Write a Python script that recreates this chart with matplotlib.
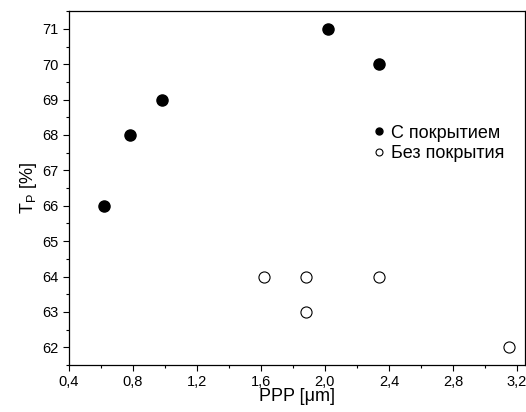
import matplotlib
matplotlib.use("Agg")
import matplotlib.pyplot as plt
from matplotlib.ticker import MultipleLocator, FuncFormatter
from matplotlib.lines import Line2D

plt.rcParams["font.family"] = ["Liberation Sans", "DejaVu Sans"]

# coated samples
coated_x = [0.62, 0.78, 0.98, 2.02, 2.34]
coated_y = [66, 68, 69, 71, 70]
# uncoated samples
bare_x = [1.62, 1.88, 1.88, 2.34, 3.15]
bare_y = [64, 64, 63, 64, 62]

fig = plt.figure(figsize=(5.26, 4.12), dpi=100)
ax = fig.add_axes([0.131, 0.114, 0.867, 0.859])

ax.plot(coated_x, coated_y, "o", color="black", ms=8, ls="none")
ax.plot(bare_x, bare_y, "o", mfc="white", mec="black", mew=0.8, ms=8, ls="none")

ax.set_xlim(0.4, 3.25)
ax.set_ylim(61.5, 71.5)
ax.xaxis.set_major_locator(MultipleLocator(0.4))
ax.xaxis.set_minor_locator(MultipleLocator(0.2))
ax.yaxis.set_major_locator(MultipleLocator(1))
ax.yaxis.set_minor_locator(MultipleLocator(0.5))
ax.xaxis.set_major_formatter(FuncFormatter(lambda v, p: f"{v:.1f}".replace(".", ",")))
ax.tick_params(which="both", direction="out", width=0.8, labelsize=10.5)
ax.tick_params(which="major", length=4)
ax.tick_params(which="minor", length=2.5)
for s in ax.spines.values():
    s.set_linewidth(0.9)

ax.set_xlabel("PPP [μm]", fontsize=13, labelpad=-1)
ax.set_ylabel(r"$\mathregular{T_P}$ [%]", fontsize=13, labelpad=2)

handles = [
    Line2D([], [], marker="o", color="black", ls="none", ms=5),
    Line2D([], [], marker="o", mfc="white", mec="black", mew=0.8, ls="none", ms=5),
]
ax.legend(handles, ["С покрытием", "Без покрытия"], loc="upper left",
          bbox_to_anchor=(0.648, 0.705), frameon=False, fontsize=13,
          handlelength=0.6, handletextpad=0.35, labelspacing=0.2, borderpad=0)

fig.savefig("out.png", dpi=100)
